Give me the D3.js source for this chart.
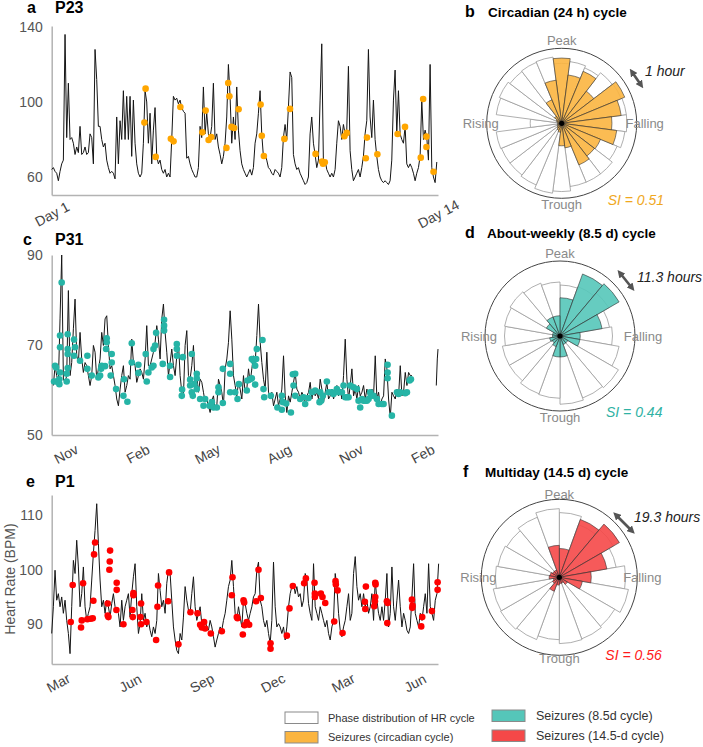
<!DOCTYPE html>
<html>
<head>
<meta charset="utf-8">
<script src="https://cdn.jsdelivr.net/npm/d3@7"></script>
<style>
  body { margin: 0; background: #fff; }
  svg { display: block; }
</style>
</head>
<body>
<div id="chart"></div>
<script>
// ---- panel a: P23, 14 days, hourly-ish samples (BPM)
const p23Step = 0.0561; // days between samples, starting at Day 1
const p23HR = [64,65,63,62,58,63,67,69,136,81,
  110,80,81,78,72,76,73,87,72,73,
  76,72,73,83,81,67,128,112,87,87,
  80,76,78,69,65,62,63,62,59,92,
  67,90,80,106,80,103,80,103,71,101,
  78,67,62,60,62,78,106,100,78,94,
  67,85,97,71,67,69,64,62,64,60,
  62,60,80,103,101,102,99,101,97,95,
  94,70,71,67,64,62,60,60,65,87,
  81,108,83,94,83,81,87,110,80,83,
  76,72,67,71,78,92,120,103,78,92,
  80,108,85,74,67,64,62,60,62,64,
  61,65,78,83,94,106,83,71,72,69,
  65,64,62,61,64,63,62,60,65,81,
  88,80,97,116,113,72,67,64,65,62,
  60,58,56,57,60,83,92,78,72,65,
  69,101,131,67,69,64,62,60,62,60,
  64,78,90,87,80,88,83,85,119,74,
  64,58,60,62,64,60,65,71,83,90,
  128,92,81,101,80,71,64,60,58,57,
  58,57,56,58,69,101,117,83,106,83,
  80,78,87,67,65,67,65,62,58,62,
  65,71,101,80,85,81,69,120,65,60,
  57,68];
const p23SzDay = [4.16,4.12,4.50,5.01,5.10,5.33,6.07,6.18,6.28,6.37,6.88,6.94,6.98,7.05,7.14,7.29,
  8.03,8.07,8.14,8.83,9.02,9.88,10.10,10.13,10.19,10.85,10.93,11.57,11.61,11.96,12.64,12.89,
  13.42,13.50,13.61,13.61,13.85];
const p23SzHR = [107.1,89.0,70.7,80.4,79.0,97.3,83.8,95.4,79.7,81.3,75.5,110.1,103.0,86.7,86.1,96.1,
  98.6,82.0,71.2,80.3,96.3,72.3,68.2,67.1,67.8,81.7,83.5,70.0,81.0,72.1,82.9,86.7,
  70.3,101.6,81.5,76.0,62.8];

// ---- panel c: P31, days since 14 Oct 2018
const p31Start = "2018-10-14", p31First = 2.14, p31Step = 2.137;
const p31HR = [61.0,65.4,63.2,61.7,75.8,90,62.4,61.7,63.2,82.1,
  63.2,66.1,73.6,80.2,67.6,66.1,72.8,66.9,63.9,66.1,
  65.4,63.2,61.0,63.2,69.9,68.4,62.4,64.7,66.9,72.8,
  69.9,75.8,76.5,69.9,64.7,65.4,63.2,61.0,58.0,56.5,
  60.2,63.2,65.4,59.5,61.0,63.2,62.4,71.3,66.1,65.4,
  61.7,63.2,64.7,63.9,62.4,66.9,74.3,65.4,65.4,66.9,
  68.4,70.6,74.3,71.3,66.9,75.8,79.1,72.8,68.4,63.2,
  66.1,69.1,65.4,63.2,67.6,70.6,63.2,59.5,58.7,69.9,
  73.2,63.2,62.4,65.4,69.9,61.0,63.2,59.5,62.4,61.7,
  59.5,57.3,58.0,56.5,55.0,57.6,58.7,55.8,56.5,62.4,
  61.0,59.5,56.5,64.7,66.9,70.6,77.6,71.3,63.2,61.0,
  58.7,61.7,60.2,58.0,63.2,59.5,60.2,64.7,61.7,64.7,
  67.6,66.1,72.1,79.1,70.6,66.1,62.4,60.2,68.4,59.5,
  58.0,59.5,56.5,58.0,59.5,56.5,58.0,60.2,67.6,58.7,
  55.0,58.7,57.3,59.5,61.7,63.9,60.2,59.5,58.0,59.5,
  58.7,56.5,58.7,59.5,61.7,58.0,60.2,58.7,59.5,58.0,
  62.4,60.2,57.3,59.5,61.7,58.0,58.7,60.2,58.0,59.5,
  61.0,58.7,60.2,58.0,63.2,71.3,62.4,58.0,61.0,64.7,
  58.7,60.2,58.0,61.0,58.7,59.5,61.0,58.0,60.2,58.7,
  58.0,60.2,58.7,67.6,58.0,59.5,56.5,58.0,58.7,66.9,
  64.7,58.0,53.9,59.5,58.7,58.0,60.2,58.7,65.4,58.7,
  59.5,63.9,61.0,63.9,63.2,63.2];
const p31Tail = [[492.8,61.0],[494.1,66.9],[495.0,69.1]];
const p31Seizures = [[4.3,65.4],[5.6,65.0],[3.0,61.9],[6.4,61.9],[9.8,61.3],[10.7,63.9],[12.8,83.9],
  [10.7,72.1],[10.7,69.5],[9.8,62.4],[20.5,72.4],[20.5,69.1],[20.5,68.0],[20.5,64.9],[19.2,63.6],
  [19.2,61.9],[28.6,71.2],[29.9,69.5],[28.6,67.6],[36.3,66.5],[45.7,67.6],[45.7,64.7],[51.3,63.2],
  [59.8,62.8],[62.0,63.2],[63.3,64.7],[64.1,65.4],[68.4,65.3],[69.7,69.1],[70.5,71.5],[70.5,70.6],
  [76.9,68.0],[76.9,66.1],[75.6,63.2],[82.5,60.2],[91.9,58.7],[92.7,62.4],[97.0,57.4],[102.6,70.4],
  [102.6,66.1],[111.1,65.6],[111.1,63.8],[120.5,68.0],[121.8,61.9],[123.9,63.9],[128.2,65.0],
  [130.4,65.4],[130.4,69.1],[132.5,69.9],[133.8,72.7],[144.0,75.6],[144.0,74.3],[144.0,73.2],
  [142.3,65.8],[151.7,65.4],[151.7,62.9],[160.3,70.2],[160.3,69.1],[160.3,67.6],[168.0,67.3],
  [167.1,60.1],[166.7,58.7],[179.5,68.0],[177.4,62.3],[177.4,61.0],[179.5,59.5],[180.8,58.7],
  [182.9,61.3],[185.9,63.6],[185.9,62.6],[185.9,60.2],[190.2,58.0],[194.5,56.5],[196.6,58.0],
  [202.2,56.5],[205.2,57.3],[207.3,56.1],[211.6,56.1],[213.7,60.6],[213.7,59.5],[219.3,57.1],
  [219.3,64.7],[228.7,65.8],[228.7,63.6],[228.7,59.5],[235.1,59.5],[238.1,58.0],[239.8,61.3],
  [250.0,59.9],[250.9,62.1],[254.3,62.4],[256.4,62.6],[256.4,66.9],[258.6,66.5],[262.0,66.9],
  [260.7,65.4],[262.8,69.1],[270.1,71.1],[260.7,61.2],[271.4,60.2],[272.3,58.4],[280.8,58.7],
  [289.2,56.1],[294.9,58.7],[296.2,57.3],[300.5,57.0],[294.9,55.6],[306.5,55.0],[309.0,63.5],
  [312.0,63.6],[309.9,61.0],[312.0,58.7],[318.4,58.0],[322.7,58.4],[324.8,56.9],[329.1,58.2],
  [333.4,59.5],[337.6,59.9],[344.1,59.5],[343.2,57.3],[345.3,57.6],[347.5,58.7],[352.6,61.9],
  [354.7,59.5],[359.0,59.5],[361.1,59.1],[365.4,60.2],[367.6,59.5],[371.8,59.5],[374.0,61.0],
  [376.1,58.4],[378.2,58.4],[380.4,58.4],[382.5,61.0],[386.8,60.6],[391.1,60.2],[393.2,57.6],
  [395.3,56.1],[397.5,58.0],[399.6,57.6],[401.8,57.6],[403.9,57.6],[406.0,58.0],[408.2,59.5],
  [409.0,58.7],[412.4,58.7],[416.7,58.0],[418.9,56.9],[423.1,56.9],[425.3,56.9],[430.4,65.6],
  [430.4,63.9],[430.4,62.6],[435.9,54.3],[442.4,59.5],[444.5,59.1],[446.6,59.5],[453.0,59.3],
  [455.2,59.5],[458.6,62.1],[460.3,62.4]];
const p31Ticks = ["2018-11-01","2019-02-01","2019-05-01","2019-08-01","2019-11-01","2020-02-01"];

// ---- panel e: P1, days since 21 Feb 2018
const p1Start = "2018-02-21", p1Step = 2.137;
const p1HR = [88.3,93.2,99.9,94.4,95.6,93.2,95.0,92.0,94.4,90.7,
  88.3,84.6,93.2,101.7,99.3,105.4,100.5,93.2,95.6,100.5,
  93.2,90.7,92.0,93.2,98.1,103.0,107.2,112.1,104.8,98.1,
  93.2,94.4,92.0,94.4,93.2,91.3,93.8,95.6,93.2,92.6,
  92.0,89.5,94.4,90.7,93.2,94.4,95.6,91.3,95.6,98.7,
  101.1,93.2,88.3,90.1,95.6,90.7,92.0,89.5,90.7,88.9,
  87.7,89.5,88.3,90.7,99.3,96.2,93.2,94.4,92.0,97.5,
  99.9,99.3,94.4,89.5,87.1,85.2,84.6,88.3,87.1,91.3,
  96.9,94.4,92.6,92.0,95.6,98.7,93.2,90.7,92.0,93.2,
  90.1,89.5,90.7,89.5,88.9,90.7,89.5,87.7,85.8,87.1,
  88.3,89.5,88.9,90.7,92.0,94.4,96.9,98.1,101.7,96.9,
  92.0,90.7,93.2,91.3,89.5,94.4,93.8,92.0,90.7,92.0,
  93.2,95.0,95.6,99.9,101.4,94.4,93.2,90.7,89.5,90.7,
  88.3,86.5,90.7,101.4,93.2,89.5,90.1,89.5,88.3,89.5,
  87.1,89.5,93.2,95.6,96.9,97.5,95.6,96.9,95.0,95.6,
  93.2,94.4,99.3,98.1,93.8,92.0,90.7,101.1,93.2,92.0,
  90.7,93.2,92.0,90.7,89.5,90.7,88.3,87.1,89.5,90.7,
  99.3,96.9,92.0,88.9,87.7,89.5,90.7,93.2,95.6,90.7,
  92.0,99.3,102.4,96.9,94.4,95.6,93.2,95.6,93.2,94.4,
  92.0,93.2,95.6,90.7,98.1,94.4,92.0,90.7,93.2,90.7,
  94.4,99.3,89.5,92.0,100.5,93.2,90.7,94.4,98.1,93.2,
  89.5,92.0,90.7,88.9,88.3,89.5,95.0,101.1,92.0,90.7,
  89.5,92.0,90.7,93.2,95.6,92.0,101.1,93.2,92.0,90.7,
  94.4,95.6,101.1];
const p1Seizures = [[24.4,90.4],[26.9,97.2],[37.6,89.4],[38.5,90.7],[40.2,97.5],[45.7,90.9],[50.0,91.0],
  [52.6,91.1],[53.4,94.3],[54.3,102.8],[55.6,105.0],[71.8,93.8],[71.8,91.6],[72.7,91.3],[73.9,100.0],
  [74.4,101.5],[74.8,103.5],[82.9,92.6],[83.3,97.6],[83.3,96.3],[91.9,90.0],[103.4,92.6],[103.9,91.3],
  [104.7,95.7],[104.7,95.3],[113.7,91.3],[114.5,93.8],[114.5,90.0],[121.4,90.4],[133.8,87.1],
  [135.5,93.2],[136.3,97.1],[149.2,94.2],[150.4,99.5],[162.4,86.3],[177.8,92.2],[186.8,92.0],
  [190.2,89.9],[192.3,89.4],[195.3,90.4],[196.6,89.2],[203.9,88.3],[218.0,88.7],[231.7,98.6],
  [230.8,95.3],[237.2,91.3],[238.1,91.1],[244.9,88.1],[245.8,94.4],[246.6,94.0],[247.0,89.8],
  [250.0,90.4],[253.0,89.9],[262.0,94.2],[265.0,100.0],[268.0,94.8],[280.4,86.5],[280.4,85.5],
  [301.3,87.9],[304.7,92.9],[309.0,97.0],[323.5,97.5],[325.7,98.4],[336.8,97.6],[337.2,95.6],
  [337.2,95.0],[344.9,95.6],[347.0,95.0],[350.5,93.9],[362.0,90.5],[363.7,97.9],[364.1,97.3],
  [366.3,96.2],[372.7,88.4],[401.3,94.1],[401.8,92.8],[402.6,96.9],[413.3,93.3],[414.2,94.2],
  [414.6,95.0],[414.6,97.6],[415.0,97.3],[429.5,94.2],[430.0,90.2],[430.4,93.9],[461.6,94.5],
  [462.0,93.0],[462.4,93.4],[474.8,91.3],[473.5,89.6],[487.2,92.4],[494.5,97.7],[494.5,96.3]];
const p1Ticks = ["2018-03-01","2018-06-01","2018-09-01","2018-12-01","2019-03-01","2019-06-01"];

// ---- rose plots: bin heights as fraction of the outer ring, clockwise from Peak
const circHR = [0.80,0.83,0.80,0.85,0.86,0.87,0.87,0.85,0.80,0.85,0.85,0.85,
  0.91,0.94,0.89,0.87,0.87,0.88,0.42,0.88,0.90,0.87,0.88,0.89];
const circSz = [0.87,0.65,0.75,0.54,0.91,0.80,0.67,0.74,0.56,0.55,0.60,0.33,
  0.30,0.12,0.10,0.08,0.06,0.06,0.05,0.06,0.08,0.12,0.34,0.58];
const weekHR = [0.68,0.70,0.75,0.67,0.70,0.80,0.90,0.88,0.91,0.83,0.82,0.78,0.78,0.74,0.75,0.77,0.75,0.72];
const weekSz = [0.51,0.88,0.91,0.57,0.27,0.27,0.12,0.12,0.28,0.28,0.15,0.12,0.14,0.10,0.10,0.21,0.27,0.27];
const multiHR = [0.83,0.72,0.80,0.74,0.85,0.90,0.82,0.84,0.85,0.80,0.85,0.87,0.86,0.82,0.80,0.78,0.82,0.88];
const multiSz = [0.37,0.79,0.89,0.62,0.41,0.30,0.12,0.08,0.08,0.10,0.19,0.10,0.08,0.13,0.12,0.10,0.10,0.41];
const phaseLabels = ["Peak","Falling","Trough","Rising"];

const font = '"Liberation Sans", Arial, Helvetica, sans-serif';
const orangeDot = "#ffa600", tealDot = "#26b4a6", redDot = "#ff0000";
const orangeBin = "#fbb540", tealBin = "#55c6b9", redBin = "#f54848";

const parse = d3.timeParse("%Y-%m-%d");
const dayAt = (start, d) => new Date(+start + d * 864e5);

const svg = d3.select("#chart").append("svg")
  .attr("width", 703).attr("height", 747)
  .style("font-family", font);
svg.append("rect").attr("width", 703).attr("height", 747).attr("fill", "#fff");

function seriesPanel(o) {
  const g = svg.append("g");
  const y0 = o.y.range()[0], x0 = o.x.range()[0];

  g.append("g")
    .attr("transform", `translate(${x0},0)`)
    .call(d3.axisLeft(o.y).tickValues(o.yTicks).tickSize(0).tickSizeOuter(0).tickPadding(9))
    .call(a => a.attr("font-family", font).attr("font-size", 14))
    .call(a => a.select(".domain").attr("stroke", "#b3b3b3").attr("stroke-width", 1.5))
    .selectAll("text").attr("fill", "#555");

  g.append("g")
    .attr("transform", `translate(0,${y0})`)
    .call(d3.axisBottom(o.x).tickValues(o.xTicks).tickFormat(o.fmt).tickSize(0).tickSizeOuter(0))
    .call(a => a.attr("font-family", font).attr("font-size", 14))
    .call(a => a.select(".domain").attr("stroke", "#b3b3b3").attr("stroke-width", 1.5))
    .selectAll("text")
      .attr("y", 0).attr("dy", "0.35em")
      .attr("transform", "translate(0,19) rotate(-28)")
      .attr("fill", "#444");

  const line = d3.line()
    .defined(d => d[1] != null)
    .x(d => o.x(d[0]))
    .y(d => o.y(d[1]));
  o.lines.forEach(pts => {
    g.append("path").datum(pts)
      .attr("d", line)
      .attr("fill", "none")
      .attr("stroke", "#151515")
      .attr("stroke-width", 1)
      .attr("stroke-linejoin", "round");
  });

  g.selectAll("circle.sz").data(o.dots).join("circle")
    .attr("class", "sz")
    .attr("cx", d => o.x(d[0]))
    .attr("cy", d => o.y(d[1]))
    .attr("r", 3.3)
    .attr("fill", o.dotColor);

  g.append("text").attr("x", o.letterX).attr("y", o.titleY)
    .attr("font-weight", "bold").attr("font-size", 16).text(o.letter);
  g.append("text").attr("x", 55).attr("y", o.titleY)
    .attr("font-weight", "bold").attr("font-size", 16).text(o.title);
}

// panel a
const xA = d3.scaleLinear().domain([1, 14]).range([51.7, 438]);
const yA = d3.scaleLinear().domain([50.4, 140.5]).range([195, 26]);
seriesPanel({
  x: xA, y: yA, yTicks: [60, 100, 140], xTicks: [1, 14], fmt: d => `Day ${d}`,
  lines: [p23HR.map((v, i) => [1 + i * p23Step, v])],
  dots: p23SzDay.map((d, i) => [d, p23SzHR[i]]),
  dotColor: orangeDot, letter: "a", letterX: 27, title: "P23", titleY: 12.5
});

// panel c
const startC = parse(p31Start);
const xC = d3.scaleTime().domain([startC, dayAt(startC, 495)]).range([51.7, 438]);
const yC = d3.scaleLinear().domain([50, 90]).range([435, 255]);
seriesPanel({
  x: xC, y: yC, yTicks: [50, 70, 90], xTicks: p31Ticks.map(parse), fmt: d3.timeFormat("%b"),
  lines: [p31HR.map((v, i) => [dayAt(startC, p31First + i * p31Step), v]),
          p31Tail.map(d => [dayAt(startC, d[0]), d[1]])],
  dots: p31Seizures.map(d => [dayAt(startC, d[0]), d[1]]),
  dotColor: tealDot, letter: "c", letterX: 23, title: "P31", titleY: 245
});

// panel e
const startE = parse(p1Start);
const xE = d3.scaleTime().domain([startE, dayAt(startE, 495)]).range([51.7, 438]);
const yE = d3.scaleLinear().domain([82.7, 113.7]).range([664, 495]);
seriesPanel({
  x: xE, y: yE, yTicks: [90, 100, 110], xTicks: p1Ticks.map(parse), fmt: d3.timeFormat("%b"),
  lines: [p1HR.map((v, i) => [dayAt(startE, i * p1Step), v])],
  dots: p1Seizures.map(d => [dayAt(startE, d[0]), d[1]]),
  dotColor: redDot, letter: "e", letterX: 26, title: "P1", titleY: 487
});

svg.append("text")
  .attr("transform", "translate(15,579) rotate(-90)")
  .attr("text-anchor", "middle")
  .attr("font-size", 14).attr("fill", "#555")
  .text("Heart Rate (BPM)");

// arrow marker for the bin-width annotations
const defs = svg.append("defs");
defs.append("marker").attr("id", "arrowHead")
  .attr("viewBox", "0 0 10 10").attr("refX", 5).attr("refY", 5)
  .attr("markerWidth", 3).attr("markerHeight", 3)
  .attr("orient", "auto-start-reverse")
  .append("path").attr("d", "M0,0 L10,5 L0,10 z").attr("fill", "#555");

function rose(o) {
  const n = o.hr.length, R = o.R;
  const r = d3.scaleLinear().domain([0, 1]).range([0, R]);
  const step = 2 * Math.PI / n;
  const off = o.centered ? -step / 2 : 0;
  const arc = d3.arc()
    .innerRadius(0)
    .outerRadius(d => r(d.v))
    .startAngle(d => off + d.i * step)
    .endAngle(d => off + (d.i + 1) * step);

  const g = svg.append("g").attr("transform", `translate(${o.cx},${o.cy})`);
  g.append("circle").attr("r", R).attr("fill", "none").attr("stroke", "#444").attr("stroke-width", 1);

  g.selectAll("path.hr").data(o.hr.map((v, i) => ({ v, i }))).join("path")
    .attr("class", "hr").attr("d", arc)
    .attr("fill", "#fff").attr("stroke", "#9a9a9a").attr("stroke-width", 0.8);

  g.selectAll("path.szb").data(o.sz.map((v, i) => ({ v, i }))).join("path")
    .attr("class", "szb").attr("d", arc)
    .attr("fill", o.color).attr("fill-opacity", 0.9)
    .attr("stroke", "#333").attr("stroke-width", 0.6);

  g.append("circle").attr("r", 2.6).attr("fill", "#000");

  const lp = [[0, -83], [83, 0], [0, 81], [-81, 0]];
  g.selectAll("text.ph").data(phaseLabels).join("text")
    .attr("class", "ph")
    .attr("x", (d, i) => lp[i][0]).attr("y", (d, i) => lp[i][1])
    .attr("text-anchor", "middle").attr("dy", "0.35em")
    .attr("font-size", 13).attr("fill", "#8a8a8a")
    .text(d => d);

  svg.append("line")
    .attr("x1", o.arrow[0]).attr("y1", o.arrow[1]).attr("x2", o.arrow[2]).attr("y2", o.arrow[3])
    .attr("stroke", "#555").attr("stroke-width", 2.6)
    .attr("marker-start", "url(#arrowHead)").attr("marker-end", "url(#arrowHead)");
  svg.append("text").attr("x", o.binText[0]).attr("y", o.binText[1])
    .attr("font-size", 14).attr("font-style", "italic").attr("fill", "#222")
    .text(o.binLabel);
  svg.append("text").attr("x", o.cx + 46).attr("y", o.siY)
    .attr("font-size", 14).attr("font-style", "italic").attr("fill", o.siColor)
    .text(o.si);

  svg.append("text").attr("x", o.letterX).attr("y", o.titleY)
    .attr("font-weight", "bold").attr("font-size", 16).text(o.letter);
  svg.append("text").attr("x", o.titleX).attr("y", o.titleY)
    .attr("font-weight", "bold").attr("font-size", 13.5).text(o.title);
}

rose({ cx: 561.7, cy: 123.3, R: 75, hr: circHR, sz: circSz, color: orangeBin, centered: true,
  arrow: [632, 72, 641, 85], binText: [645, 76], binLabel: "1 hour",
  si: "SI = 0.51", siY: 205, siColor: "#f0a81e",
  letter: "b", letterX: 465, title: "Circadian (24 h) cycle", titleX: 488, titleY: 17 });
rose({ cx: 560, cy: 336, R: 75, hr: weekHR, sz: weekSz, color: tealBin, centered: false,
  arrow: [620, 273, 632, 288], binText: [637, 282], binLabel: "11.3 hours",
  si: "SI = 0.44", siY: 416.5, siColor: "#2fb2a4",
  letter: "d", letterX: 465, title: "About-weekly (8.5 d) cycle", titleX: 487, titleY: 238 });
rose({ cx: 559.3, cy: 577.3, R: 78, hr: multiHR, sz: multiSz, color: redBin, centered: false,
  arrow: [616, 515, 632, 531], binText: [634, 522], binLabel: "19.3 hours",
  si: "SI = 0.56", siY: 660, siColor: "#ff1a1a",
  letter: "f", letterX: 463, title: "Multiday (14.5 d) cycle", titleX: 485, titleY: 477 });

// legend
const legendItems = [
  { x: 285, y: 712, fill: "#fff", label: "Phase distribution of HR cycle", size: 11 },
  { x: 285, y: 731.5, fill: orangeBin, label: "Seizures (circadian cycle)", size: 11 },
  { x: 492, y: 710, fill: tealBin, label: "Seizures (8.5d cycle)", size: 12.5 },
  { x: 492, y: 730, fill: redBin, label: "Seizures (14.5-d cycle)", size: 12.5 }
];
const lg = svg.append("g");
lg.selectAll("rect").data(legendItems).join("rect")
  .attr("x", d => d.x).attr("y", d => d.y)
  .attr("width", 33).attr("height", 11.5)
  .attr("fill", d => d.fill).attr("stroke", "#8a8a8a").attr("stroke-width", 1);
lg.selectAll("text").data(legendItems).join("text")
  .attr("x", d => d.x + (d.x < 400 ? 43 : 44)).attr("y", d => d.y + 6)
  .attr("dy", "0.35em")
  .attr("font-size", d => d.size).attr("fill", "#333")
  .text(d => d.label);
</script>
</body>
</html>
